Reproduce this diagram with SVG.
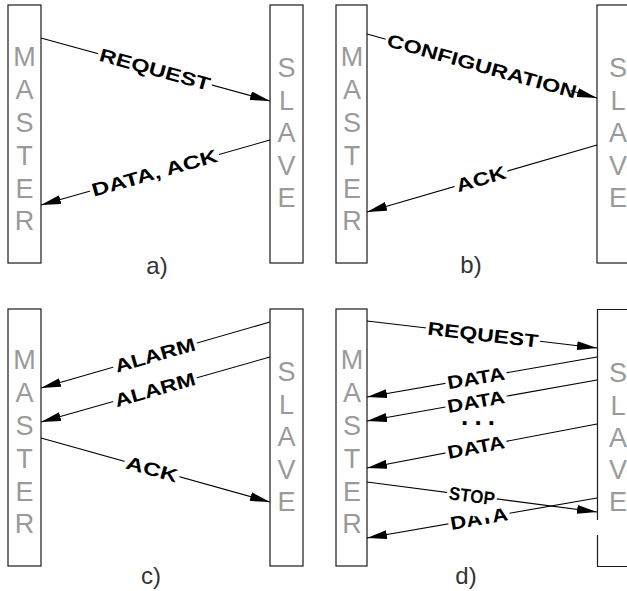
<svg xmlns="http://www.w3.org/2000/svg" width="627" height="591" viewBox="0 0 627 591">
<defs>
<style>
.box{fill:#fff;stroke:#1a1a1a;stroke-width:1.2}
.edge{fill:none;stroke:#1a1a1a;stroke-width:1.2}
.ltr{font-family:"Liberation Sans",Arial,sans-serif;font-size:27px;fill:#9a9a9a;text-anchor:middle}
.lbl{font-family:"Liberation Sans",Arial,sans-serif;font-size:18.5px;font-weight:bold;fill:#000;text-anchor:middle}
.bg{fill:#fff}
.cap{font-family:"Liberation Sans",Arial,sans-serif;font-size:24px;fill:#333;text-anchor:middle}
.conn{fill:none;stroke:#000;stroke-width:1.1;marker-end:url(#ah)}
</style>
<marker id="ah" markerUnits="userSpaceOnUse" markerWidth="20" markerHeight="9" refX="20" refY="4.5" orient="auto">
<path d="M0,0 L20,4.5 L0,9 Z" fill="#000"/>
</marker>
</defs>
<rect width="627" height="591" fill="#fff"/>

<!-- panel a -->
<g id="master-a">
<rect class="box" x="8" y="5" width="33" height="258"/>
<text class="ltr" x="24.5" y="66">M</text><text class="ltr" x="24.5" y="99">A</text><text class="ltr" x="24.5" y="132">S</text><text class="ltr" x="24.5" y="165">T</text><text class="ltr" x="24.5" y="198">E</text><text class="ltr" x="24.5" y="230">R</text>
</g>
<g id="slave-a">
<rect class="box" x="270" y="5" width="33" height="258"/>
<text class="ltr" x="286.5" y="77">S</text><text class="ltr" x="286.5" y="110">L</text><text class="ltr" x="286.5" y="142">A</text><text class="ltr" x="286.5" y="175">V</text><text class="ltr" x="286.5" y="207">E</text>
</g>
<!-- panel b -->
<g id="master-b">
<rect class="box" x="336" y="5" width="31" height="258"/>
<text class="ltr" x="352" y="66">M</text><text class="ltr" x="352" y="99">A</text><text class="ltr" x="352" y="132">S</text><text class="ltr" x="352" y="165">T</text><text class="ltr" x="352" y="198">E</text><text class="ltr" x="352" y="230">R</text>
</g>
<g id="slave-b">
<rect class="box" x="597" y="5" width="40" height="258"/>
<text class="ltr" x="618" y="77">S</text><text class="ltr" x="618" y="110">L</text><text class="ltr" x="618" y="142">A</text><text class="ltr" x="618" y="175">V</text><text class="ltr" x="618" y="207">E</text>
</g>
<!-- panel c -->
<g id="master-c">
<rect class="box" x="8" y="309" width="33" height="257"/>
<text class="ltr" x="24.5" y="369">M</text><text class="ltr" x="24.5" y="402">A</text><text class="ltr" x="24.5" y="435">S</text><text class="ltr" x="24.5" y="468">T</text><text class="ltr" x="24.5" y="501">E</text><text class="ltr" x="24.5" y="533">R</text>
</g>
<g id="slave-c">
<rect class="box" x="270" y="309" width="33" height="257"/>
<text class="ltr" x="286.5" y="381">S</text><text class="ltr" x="286.5" y="414">L</text><text class="ltr" x="286.5" y="446">A</text><text class="ltr" x="286.5" y="479">V</text><text class="ltr" x="286.5" y="511">E</text>
</g>
<!-- panel d -->
<g id="master-d">
<rect class="box" x="336" y="309" width="31" height="257"/>
<text class="ltr" x="352" y="369">M</text><text class="ltr" x="352" y="402">A</text><text class="ltr" x="352" y="435">S</text><text class="ltr" x="352" y="468">T</text><text class="ltr" x="352" y="501">E</text><text class="ltr" x="352" y="533">R</text>
</g>
<g id="slave-d">
<rect x="597" y="309" width="40" height="257" fill="#fff"/>
<path class="edge" d="M640,309.5 H597.5 V520 M597.5,535 V566.5 H640"/>
<text class="ltr" x="618" y="382">S</text><text class="ltr" x="618" y="415">L</text><text class="ltr" x="618" y="447">A</text><text class="ltr" x="618" y="479">V</text><text class="ltr" x="618" y="511">E</text>
</g>

<g id="connectors">
<path class="conn" d="M41,38 L270,101"/>
<path class="conn" d="M270,140 L41,205"/>
<path class="conn" d="M367,34 L597,98"/>
<path class="conn" d="M597,145 L367,212"/>
<path class="conn" d="M270,322 L41,388"/>
<path class="conn" d="M270,357 L41,422"/>
<path class="conn" d="M41,438 L270,502"/>
<path class="conn" d="M367,321 L597,348"/>
<path class="conn" d="M597,357 L367,397"/>
<path class="conn" d="M597,380 L367,421"/>
<path class="conn" d="M597,424 L367,468"/>
<path class="conn" d="M597,498 L367,538"/>
<path class="conn" d="M367,482 L597,512"/>

<g transform="translate(155,69.4) rotate(15.38)"><rect class="bg" x="-59" y="-9" width="118" height="18"/><text class="lbl" y="6.5" textLength="114" lengthAdjust="spacingAndGlyphs">REQUEST</text></g>
<g transform="translate(154.5,172.8) rotate(-15.85)"><rect class="bg" x="-67" y="-9" width="134" height="18"/><text class="lbl" y="6.5" textLength="130" lengthAdjust="spacingAndGlyphs">DATA, ACK</text></g>
<g transform="translate(482,66) rotate(15.55)"><rect class="bg" x="-100" y="-9" width="192" height="18"/><text class="lbl" y="6.5" textLength="196" lengthAdjust="spacingAndGlyphs">CONFIGURATION</text></g>
<g transform="translate(481,178.8) rotate(-16.24)"><rect class="bg" x="-27.5" y="-9" width="55" height="18"/><text class="lbl" y="6.5" textLength="51" lengthAdjust="spacingAndGlyphs">ACK</text></g>
<g transform="translate(155,355.1) rotate(-16.08)"><rect class="bg" x="-43.5" y="-9" width="87" height="18"/><text class="lbl" y="6.5" textLength="83" lengthAdjust="spacingAndGlyphs">ALARM</text></g>
<g transform="translate(155,389.6) rotate(-15.85)"><rect class="bg" x="-43.5" y="-9" width="87" height="18"/><text class="lbl" y="6.5" textLength="83" lengthAdjust="spacingAndGlyphs">ALARM</text></g>
<g transform="translate(152,469) rotate(15.61)"><rect class="bg" x="-28.5" y="-9" width="57" height="18"/><text class="lbl" y="6.5" textLength="53" lengthAdjust="spacingAndGlyphs">ACK</text></g>
<g transform="translate(483,334.6) rotate(6.70)"><rect class="bg" x="-57.5" y="-9" width="115" height="18"/><text class="lbl" y="6.5" textLength="111" lengthAdjust="spacingAndGlyphs">REQUEST</text></g>
<g transform="translate(476,378) rotate(-9.87)"><rect class="bg" x="-31" y="-9" width="62" height="18"/><text class="lbl" y="6.5" textLength="58" lengthAdjust="spacingAndGlyphs">DATA</text></g>
<g transform="translate(476,401.6) rotate(-10.1)"><rect class="bg" x="-31" y="-9" width="62" height="18"/><text class="lbl" y="6.5" textLength="58" lengthAdjust="spacingAndGlyphs">DATA</text></g>
<text class="lbl" x="478" y="425" style="font-size:26px" textLength="34" lengthAdjust="spacing">...</text>
<g transform="translate(476,447.1) rotate(-10.83)"><rect class="bg" x="-31" y="-9" width="62" height="18"/><text class="lbl" y="6.5" textLength="58" lengthAdjust="spacingAndGlyphs">DATA</text></g>
<g transform="translate(479,518.7) rotate(-9.87)"><rect class="bg" x="-31" y="-9" width="62" height="18"/><text class="lbl" y="6.5" textLength="58" lengthAdjust="spacingAndGlyphs">DATA</text></g>
<g transform="translate(472,495.7) rotate(7.43)"><rect class="bg" x="-25" y="-9" width="50" height="29"/><text class="lbl" y="6.5" textLength="46" lengthAdjust="spacingAndGlyphs">STOP</text></g>
</g>

<g id="captions">
<text class="cap" x="157" y="274">a)</text>
<text class="cap" x="471" y="273">b)</text>
<text class="cap" x="151" y="584">c)</text>
<text class="cap" x="466" y="584">d)</text>
</g>
</svg>
